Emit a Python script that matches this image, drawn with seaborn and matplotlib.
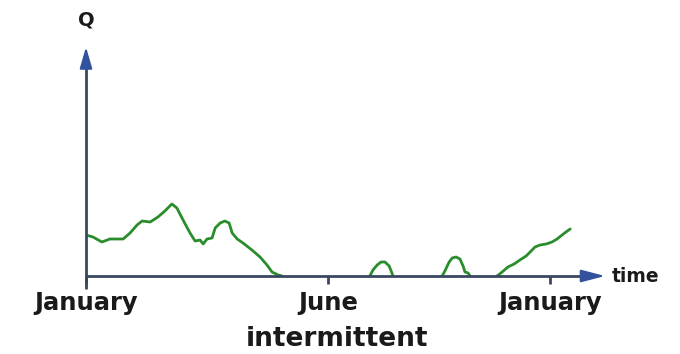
import matplotlib
matplotlib.use("Agg")
import matplotlib.pyplot as plt
import seaborn as sns
import pandas as pd

# ---- data (x in months from January, Q in arbitrary units) ----
seg1_x = [0.0, 0.18, 0.41, 0.62, 0.96, 1.14, 1.32, 1.45, 1.66, 1.86, 2.04, 2.22, 2.35, 2.51,
          2.69, 2.82, 2.95, 3.03, 3.13, 3.26, 3.34, 3.47, 3.59, 3.70, 3.78, 3.91, 4.06, 4.29,
          4.50, 4.68, 4.81, 4.97, 5.07]
seg1_q = [41, 39, 34, 37, 37, 43, 51, 55, 54, 59, 65, 72, 68, 56,
          43, 35, 36, 32, 37, 38, 48, 53, 55, 53, 43, 37, 33, 26,
          19, 11, 4, 1, 0]
seg2_x = [7.34, 7.42, 7.53, 7.63, 7.73, 7.84, 7.89, 7.94]
seg2_q = [0, 6, 11, 14, 14, 10, 5, 0]
seg3_x = [9.21, 9.28, 9.39, 9.47, 9.57, 9.67, 9.75, 9.80, 9.88, 9.93]
seg3_q = [0, 5, 14, 18, 19, 17, 10, 4, 3, 0]
seg4_x = [10.63, 10.76, 10.91, 11.07, 11.22, 11.38, 11.51, 11.61, 11.74, 11.90, 12.05,
          12.18, 12.31, 12.41, 12.52]
seg4_q = [0, 4, 9, 12, 16, 20, 25, 29, 31, 32, 34, 37, 41, 44, 47]

tick_pos = [0, 6.26, 12]
tick_labels = ["January", "June", "January"]
x_max = 13.42
y_max = 229

sns.set_style("white")
plt.rcParams["font.family"] = ["DejaVu Sans"]

segs = [(seg1_x, seg1_q), (seg2_x, seg2_q), (seg3_x, seg3_q), (seg4_x, seg4_q)]
df = pd.concat([pd.DataFrame({"t": x, "Q": q, "seg": i}) for i, (x, q) in enumerate(segs)],
               ignore_index=True)

fig = plt.figure(figsize=(6.8, 3.54), dpi=100)
ax = fig.add_axes([86 / 680, 78 / 354, 519 / 680, 229 / 354])

sns.lineplot(data=df, x="t", y="Q", units="seg", estimator=None, sort=False,
             color="#2a8d2c", linewidth=2.0, ax=ax, legend=False)

ax.set_xlim(0, x_max)
ax.set_ylim(0, y_max)
for s in ax.spines.values():
    s.set_visible(False)

line_c = "#3a4662"
head_c = "#32529e"
# axis lines
ax.plot([0, 0.962], [0, 0], transform=ax.transAxes, color=line_c, lw=2, clip_on=False,
        solid_capstyle="butt")
ax.plot([0, 0], [-0.055, 0.925], transform=ax.transAxes, color=line_c, lw=2, clip_on=False,
        solid_capstyle="butt")
# arrow heads
ax.annotate("", xy=(1, 0), xytext=(0.955, 0), xycoords="axes fraction",
            arrowprops=dict(arrowstyle="-|>,head_length=1.45,head_width=0.38",
                            mutation_scale=10, color=head_c, lw=1.5,
                            shrinkA=0, shrinkB=0))
ax.annotate("", xy=(0, 1), xytext=(0, 0.91), xycoords="axes fraction",
            arrowprops=dict(arrowstyle="-|>,head_length=1.3,head_width=0.38",
                            mutation_scale=10, color=head_c, lw=1.5,
                            shrinkA=0, shrinkB=0))

ax.set_yticks([])
ax.set_xticks(tick_pos)
ax.set_xticklabels(tick_labels, fontsize=17.5, fontweight="bold", color="#1a1a1a")
ax.tick_params(axis="x", bottom=True, length=6, width=2, color=line_c, pad=5)
ax.set_xlabel("")
ax.set_ylabel("")

fig.text(612 / 680, 1 - 277 / 354, "time", fontsize=13.5, fontweight="bold",
         color="#1a1a1a", ha="left", va="center")
fig.text(86 / 680, 1 - 20 / 354, "Q", fontsize=14, fontweight="bold",
         color="#1a1a1a", ha="center", va="center")
fig.text(337 / 680, 1 - 339 / 354, "intermittent", fontsize=19, fontweight="bold",
         color="#1a1a1a", ha="center", va="center")

fig.savefig("out.png", dpi=100)
